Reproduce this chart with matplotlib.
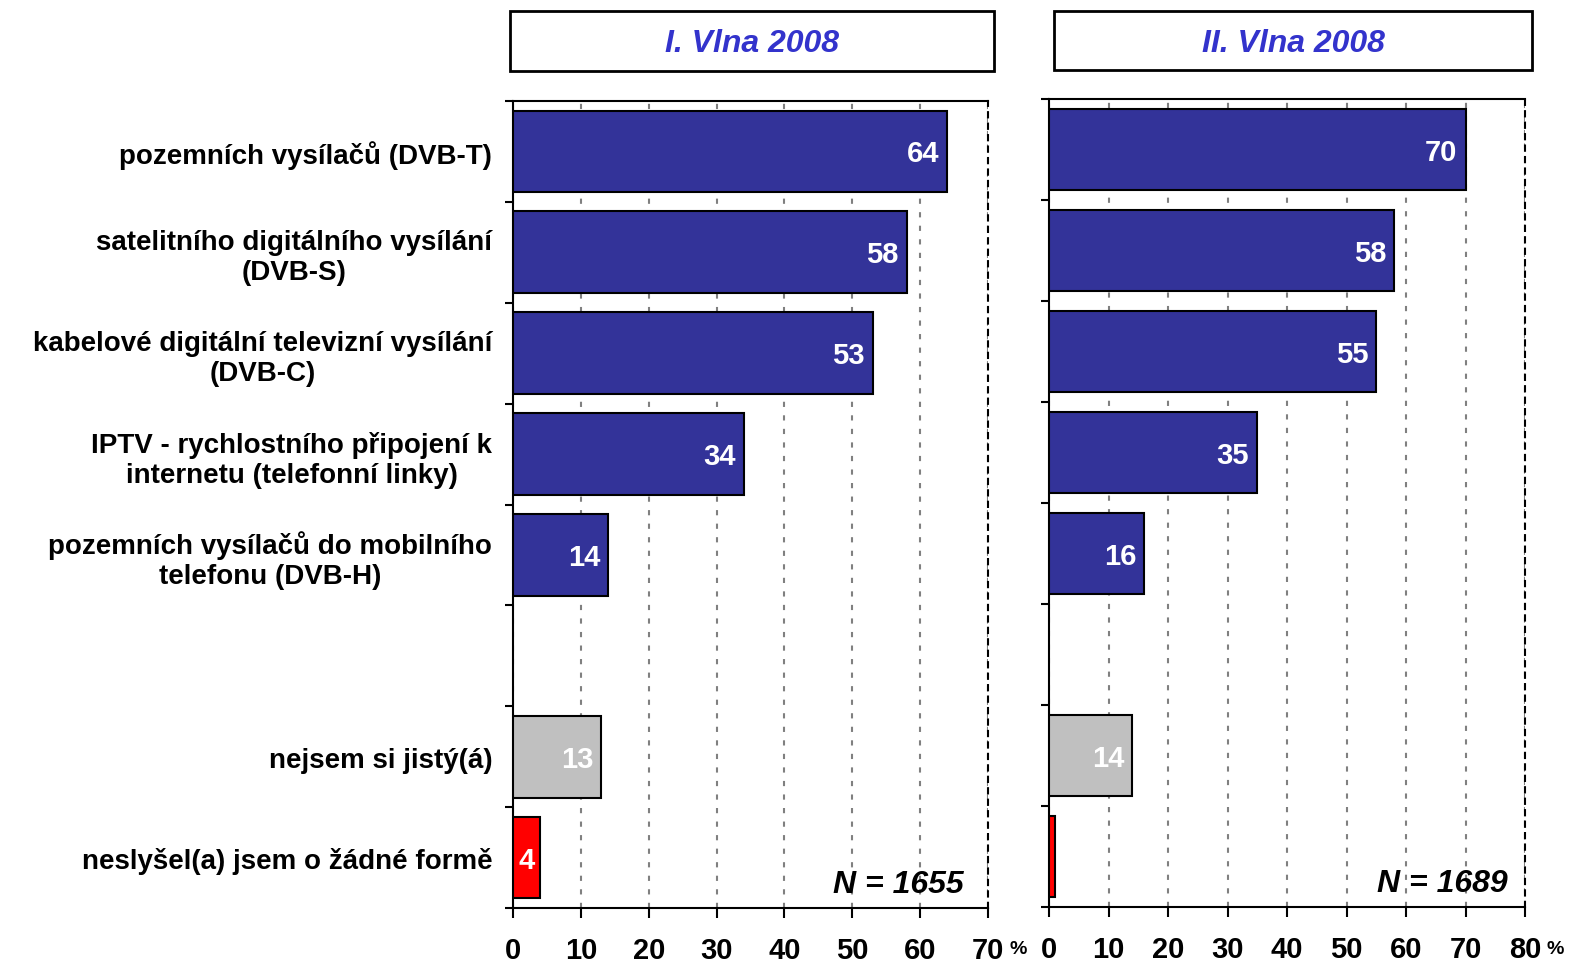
import matplotlib
matplotlib.use("Agg")
import matplotlib.pyplot as plt
from matplotlib.patches import Rectangle

plt.rcParams['font.family'] = ['Liberation Sans', 'DejaVu Sans']

# Data
categories = [
    "pozemních vysílačů (DVB-T)",
    "satelitního digitálního vysílání\n(DVB-S)",
    "kabelové digitální televizní vysílání\n(DVB-C)",
    "IPTV - rychlostního připojení k\ninternetu (telefonní linky)",
    "pozemních vysílačů do mobilního\ntelefonu (DVB-H)",
    "",
    "nejsem si jistý(á)",
    "neslyšel(a) jsem o žádné formě",
]
wave1_values = [64, 58, 53, 34, 14, None, 13, 4]
wave2_values = [70, 58, 55, 35, 16, None, 14, 1]
bar_colors = ["#333399"] * 5 + [None, "#C0C0C0", "#FF0000"]
panel_titles = ["I. Vlna 2008", "II. Vlna 2008"]
sample_sizes = ["N = 1655", "N = 1689"]
x_limits = [70, 80]

W, H = 1571, 962
fig = plt.figure(figsize=(W / 100, H / 100), dpi=100)

def fx(px):
    return px / W

def fy(py):
    return 1 - py / H

# axes boxes in pixels: left, top, right, bottom
ax_boxes = [(513, 102, 988, 909), (1049, 100, 1525, 908)]
title_boxes = [(510, 12, 994, 72), (1054, 12, 1532, 71)]
n_pos = [0.949, 0.964]

for i, values in enumerate([wave1_values, wave2_values]):
    l, t, r, b = ax_boxes[i]
    ax = fig.add_axes([fx(l), fy(b), fx(r) - fx(l), fy(t) - fy(b)])
    xmax = x_limits[i]
    pos = list(range(len(categories)))
    px_per_unit = (r - l) / xmax
    for p, v, c in zip(pos, values, bar_colors):
        if v is None:
            continue
        ax.barh(p, v, height=0.81, color=c, edgecolor="black", linewidth=1.5, zorder=3)
        if v >= 2:
            if v * px_per_unit < 40:
                ax.text(v / 2, p + 0.02, str(v), ha="center", va="center",
                        color="white", fontsize=21, fontweight="bold", zorder=4)
            else:
                ax.text(v - 8 / px_per_unit, p + 0.02, str(v), ha="right", va="center",
                        color="white", fontsize=21, fontweight="bold", zorder=4)

    ax.set_xlim(0, xmax)
    ax.set_ylim(len(categories) - 0.5, -0.5)
    ax.set_xticks(range(0, xmax + 1, 10))
    ax.tick_params(axis="x", direction="out", length=7, width=1.5, pad=13,
                   labelsize=21)
    for lab in ax.get_xticklabels():
        lab.set_fontweight("bold")

    ax.set_yticks(pos)
    if i == 0:
        ax.set_yticklabels(categories, fontsize=20, fontweight="bold",
                           ha="right", multialignment="center")
    else:
        ax.set_yticklabels([])
    ax.tick_params(axis="y", which="major", length=0, pad=15)
    ax.set_yticks([p - 0.5 for p in pos] + [len(pos) - 0.5], minor=True)
    ax.tick_params(axis="y", which="minor", direction="out", length=6, width=1.5)

    ax.grid(axis="x", color="#808080", linestyle=(0, (2.5, 4)), linewidth=1.5, zorder=0)
    ax.set_axisbelow(True)
    for s in ["left", "bottom", "top"]:
        ax.spines[s].set_linewidth(1.5)
        ax.spines[s].set_color("black")
    ax.spines["right"].set_linestyle((0, (2.5, 3)))
    ax.spines["right"].set_linewidth(1.5)

    ax.text(n_pos[i], 0.03, sample_sizes[i], transform=ax.transAxes, ha="right",
            va="center", fontsize=23, fontweight="bold", style="italic", zorder=5)

    # percent sign after last tick
    fig.text(fx(r + 30), fy(950), "%", ha="center", va="center",
             fontsize=14, fontweight="bold")

    # title box
    bl, bt, br, bb = title_boxes[i]
    fig.patches.append(Rectangle((fx(bl), fy(bb)), fx(br) - fx(bl), fy(bt) - fy(bb),
                                 transform=fig.transFigure, facecolor="white",
                                 edgecolor="black", linewidth=2))
    fig.text((fx(bl) + fx(br)) / 2, fy(44), panel_titles[i],
             ha="center", va="center", fontsize=23, fontweight="bold",
             style="italic", color="#3333CC")

fig.savefig("out.png", dpi=100)
